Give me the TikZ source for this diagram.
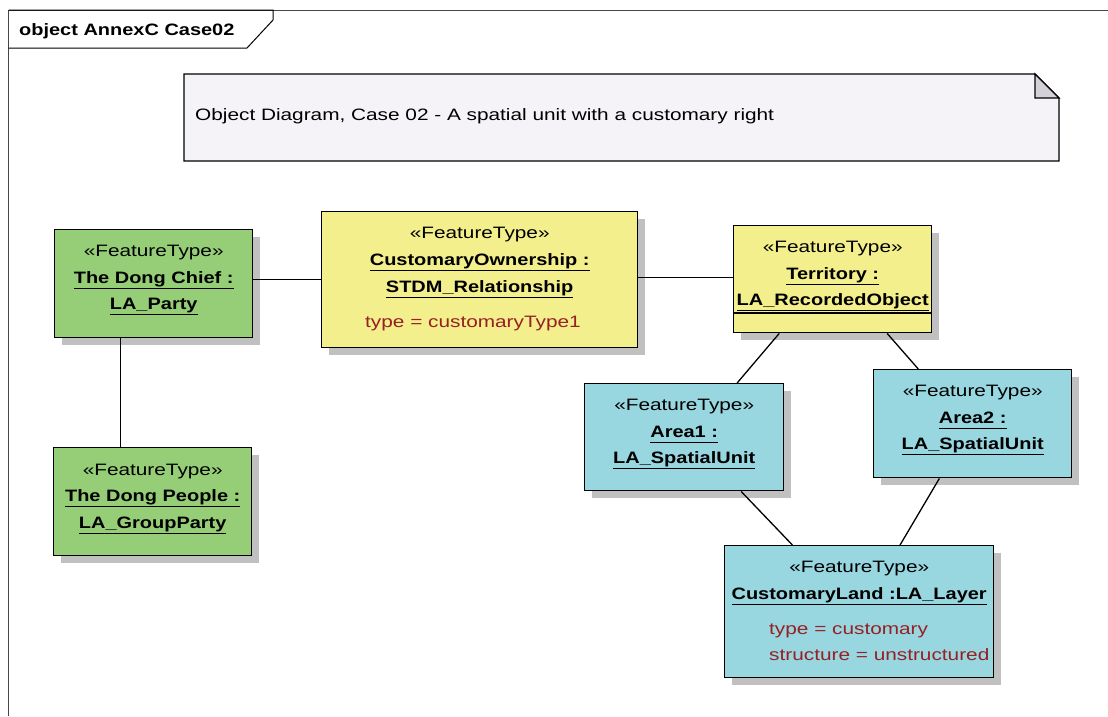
\documentclass[tikz,border=0pt]{standalone}
\usepackage{fontspec}
\usetikzlibrary{calc,shadows}
\newfontfamily\diareg[FakeStretch=1.26]{Liberation Sans}
\newfontfamily\diabold[FakeStretch=1.21]{Liberation Sans}

\definecolor{partygreen}{RGB}{150,206,120}
\definecolor{relyellow}{RGB}{243,239,140}
\definecolor{unitblue}{RGB}{152,214,224}
\definecolor{notefill}{RGB}{245,243,247}
\definecolor{notefold}{RGB}{212,208,216}
\definecolor{shadowgray}{RGB}{192,192,192}
\definecolor{attrred}{RGB}{150,32,36}
\definecolor{framegray}{RGB}{70,70,70}

% underlined instance name, rule placed a few points under the baseline
\newcommand{\instname}[1]{\setbox0=\hbox{#1}\rlap{\rule[-6.4pt]{\wd0}{1.3pt}}\box0}

\tikzset{
  objbox/.style={draw=black, line width=1.4pt, rectangle, inner sep=0pt,
    anchor=north west, minimum width=#1,
    drop shadow={shadow xshift=7pt, shadow yshift=-7pt, fill=shadowgray, opacity=1}},
  stereo/.style={anchor=base, inner sep=0pt, font=\diareg\fontsize{16.5}{20}\selectfont},
  iname/.style={anchor=base, inner sep=0pt, font=\diabold\bfseries\fontsize{16.5}{20}\selectfont},
  attr/.style={anchor=base west, inner sep=0pt, text=attrred, font=\diareg\fontsize{16.5}{20}\selectfont},
  link/.style={draw=black, line width=1.3pt},
}

\begin{document}
\begin{tikzpicture}[x=1pt, y=-1pt]
\useasboundingbox[fill=white] (0,0) rectangle (1108,716);

% diagram frame and its header tab
\draw[framegray, line width=1pt] (1108,10) -- (8.5,10) -- (8.5,716);
\draw[black, line width=1pt] (8.5,10) -- (273,10) -- (273,20) -- (247,48) -- (8.5,48);
\node[anchor=base west, inner sep=0pt, font=\diabold\bfseries\fontsize{16.5}{20}\selectfont]
  (frametitle) at (19,35) {object AnnexC Case02};

% note with folded corner
\draw[line width=1.4pt, fill=notefill] (184,74) -- (1035,74) -- (1059,98) -- (1059,161) -- (184,161) -- cycle;
\draw[line width=1.4pt, fill=notefold] (1035,74) -- (1035,98) -- (1059,98) -- cycle;
\node[anchor=base west, inner sep=0pt, font=\diareg\fontsize{16.5}{20}\selectfont]
  (notetext) at (195,120) {Object Diagram, Case 02 - A spatial unit with a customary right};

% parties
\node[objbox=198pt, minimum height=108pt, fill=partygreen] (ch) at (54,229) {};
\node[stereo] (ch-s) at ([yshift=-27pt]ch.north) {«FeatureType»};
\node[iname] (ch-n1) at ([yshift=-54pt]ch.north) {\instname{The Dong Chief :}};
\node[iname] (ch-n2) at ([yshift=-80pt]ch.north) {\instname{LA\_Party}};

\node[objbox=198pt, minimum height=108pt, fill=partygreen] (pe) at (53,447) {};
\node[stereo] (pe-s) at ([yshift=-28pt]pe.north) {«FeatureType»};
\node[iname] (pe-n1) at ([yshift=-54pt]pe.north) {\instname{The Dong People :}};
\node[iname] (pe-n2) at ([yshift=-81pt]pe.north) {\instname{LA\_GroupParty}};

% relationship
\node[objbox=316pt, minimum height=136pt, fill=relyellow] (co) at (321,211) {};
\node[stereo] (co-s) at ([yshift=-27pt]co.north) {«FeatureType»};
\node[iname] (co-n1) at ([yshift=-54pt]co.north) {\instname{CustomaryOwnership :}};
\node[iname] (co-n2) at ([yshift=-81pt]co.north) {\instname{STDM\_Relationship}};
\node[attr] (co-a1) at ([xshift=44pt, yshift=-116pt]co.north west) {type = customaryType1};

% recorded object
\node[objbox=198pt, minimum height=107pt, fill=relyellow] (terr) at (733,225) {};
\node[stereo] (terr-s) at ([yshift=-27pt]terr.north) {«FeatureType»};
\node[iname] (terr-n1) at ([yshift=-54pt]terr.north) {\instname{Territory :}};
\node[iname] (terr-n2) at ([yshift=-80pt]terr.north) {\instname{LA\_RecordedObject}};
\draw[line width=1.3pt] ([yshift=-88pt]terr.north west) -- ([yshift=-88pt]terr.north east);

% spatial units
\node[objbox=199pt, minimum height=107pt, fill=unitblue] (a1) at (584,383) {};
\node[stereo] (a1-s) at ([yshift=-27pt]a1.north) {«FeatureType»};
\node[iname] (a1-n1) at ([yshift=-54pt]a1.north) {\instname{Area1 :}};
\node[iname] (a1-n2) at ([yshift=-80pt]a1.north) {\instname{LA\_SpatialUnit}};

\node[objbox=198pt, minimum height=108pt, fill=unitblue] (a2) at (873,369) {};
\node[stereo] (a2-s) at ([yshift=-27pt]a2.north) {«FeatureType»};
\node[iname] (a2-n1) at ([yshift=-54pt]a2.north) {\instname{Area2 :}};
\node[iname] (a2-n2) at ([yshift=-80pt]a2.north) {\instname{LA\_SpatialUnit}};

% layer
\node[objbox=269pt, minimum height=132pt, fill=unitblue] (cl) at (724,545) {};
\node[stereo] (cl-s) at ([yshift=-27pt]cl.north) {«FeatureType»};
\node[iname] (cl-n1) at ([yshift=-54pt]cl.north) {\instname{CustomaryLand :LA\_Layer}};
\node[attr] (cl-a1) at ([xshift=45pt, yshift=-89pt]cl.north west) {type = customary};
\node[attr] (cl-a2) at ([xshift=45pt, yshift=-115pt]cl.north west) {structure = unstructured};

% links
\draw[link] (co.west) -- (co.west -| ch.east);
\draw[link] ($(ch.south west)!0.333!(ch.south east)$) coordinate (chb) -- (chb |- pe.north);
\draw[link] ([yshift=2pt]terr.west) coordinate (tw) -- (tw -| co.east);
\draw[link] ($(terr.south west)!0.232!(terr.south east)$) -- ($(a1.north west)!0.764!(a1.north east)$);
\draw[link] ($(terr.south west)!0.773!(terr.south east)$) -- ($(a2.north west)!0.227!(a2.north east)$);
\draw[link] ($(a1.south west)!0.784!(a1.south east)$) -- ($(cl.north west)!0.253!(cl.north east)$);
\draw[link] ($(a2.south west)!0.333!(a2.south east)$) -- ($(cl.north west)!0.651!(cl.north east)$);
\end{tikzpicture}
\end{document}
